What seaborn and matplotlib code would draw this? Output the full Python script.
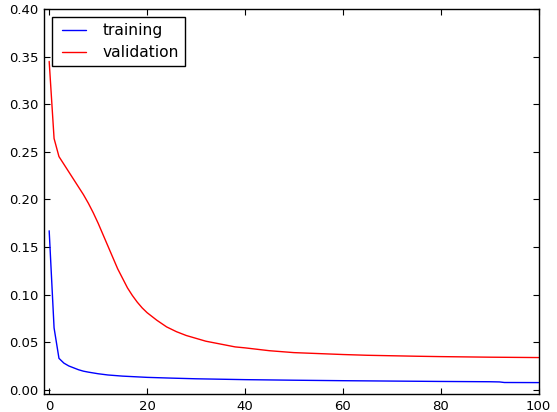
import numpy as np
import pandas as pd
import matplotlib
matplotlib.use("Agg")
import matplotlib.pyplot as plt
import seaborn as sns
from matplotlib.lines import Line2D
from matplotlib.legend_handler import HandlerLine2D

# Datos (pérdida por época)
val_epochs = [0, 1, 2, 3, 4, 5, 6, 7, 8, 9, 10, 11, 12, 13, 14, 15, 16, 17,
              18, 19, 20, 22, 24, 26, 28, 30, 32, 35, 38, 40, 45, 50, 55, 60,
              65, 70, 75, 80, 85, 90, 95, 100]
val_loss = [0.345, 0.264, 0.245, 0.237, 0.229, 0.221, 0.213, 0.205, 0.196,
            0.186, 0.175, 0.163, 0.151, 0.139, 0.127, 0.117, 0.107, 0.099,
            0.092, 0.086, 0.081, 0.073, 0.066, 0.061, 0.057, 0.054, 0.051,
            0.048, 0.045, 0.044, 0.041, 0.039, 0.038, 0.037, 0.0362, 0.0357,
            0.0352, 0.0348, 0.0345, 0.0342, 0.0340, 0.0338]

train_epochs = [0, 1, 2, 3, 4, 5, 6, 7, 8, 10, 12, 15, 20, 25, 30, 40, 50,
                60, 70, 80, 90, 92, 93, 100]
train_loss = [0.167, 0.065, 0.033, 0.028, 0.025, 0.023, 0.021, 0.0195,
              0.0185, 0.0168, 0.0155, 0.0143, 0.013, 0.0122, 0.0115, 0.0106,
              0.0100, 0.0095, 0.0091, 0.0087, 0.0084, 0.0082, 0.0076, 0.0075]

series_names = ["training", "validation"]
series_colors = ["blue", "red"]

df = pd.concat([
    pd.DataFrame({"epoch": train_epochs, "loss": train_loss, "serie": "training"}),
    pd.DataFrame({"epoch": val_epochs, "loss": val_loss, "serie": "validation"}),
], ignore_index=True)

sns.set_style("white")
plt.rcParams["font.family"] = ["DejaVu Sans"]
plt.rcParams["text.color"] = "black"

fig = plt.figure(figsize=(5.57, 4.12), dpi=100)
ax = fig.add_axes([0.0795, 0.0425, 0.8875, 0.9355])

sns.lineplot(
    data=df, x="epoch", y="loss", hue="serie",
    hue_order=series_names,
    palette=dict(zip(series_names, series_colors)),
    linewidth=1.0, ax=ax, estimator=None, sort=False,
)

ax.set_xlim(-1, 100)
ax.set_ylim(-0.005, 0.40)
ax.set_xticks([0, 20, 40, 60, 80, 100])
ax.set_yticks(np.arange(0, 0.41, 0.05))
ax.yaxis.set_major_formatter(matplotlib.ticker.FormatStrFormatter("%.2f"))
ax.set_xlabel("")
ax.set_ylabel("")

for s in ax.spines.values():
    s.set_color("black")
    s.set_linewidth(1.0)

ax.tick_params(direction="in", length=4, width=0.8, colors="black",
               labelcolor="black", labelsize=9.5, top=True, right=True,
               bottom=True, left=True, pad=4)

# Leyenda con marco cuadrado, como el estilo clásico
leg = ax.legend(loc="upper left", fontsize=11.2, fancybox=False,
                frameon=True, handlelength=1.75, handletextpad=1.07,
                borderpad=0.4, labelspacing=0.45, borderaxespad=0.5,
                handler_map={Line2D: HandlerLine2D(xpad=0.27)})
leg.get_frame().set_edgecolor("black")
leg.get_frame().set_linewidth(1.0)
leg.get_frame().set_alpha(1.0)
for t in leg.get_texts():
    t.set_color("black")

fig.savefig("out.png", dpi=100)
